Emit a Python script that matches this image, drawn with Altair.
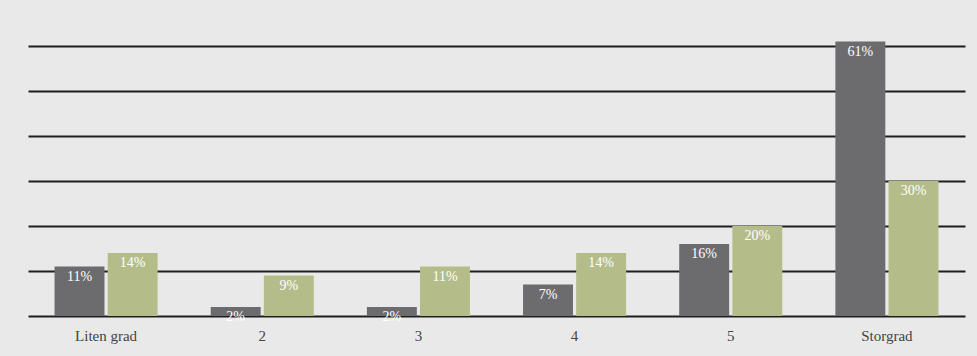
import altair as alt
import pandas as pd

categories = ["Liten grad", "2", "3", "4", "5", "Storgrad"]
series_names = ["Serie 1", "Serie 2"]
series1 = [11, 2, 2, 7, 16, 61]
series2 = [14, 9, 11, 14, 20, 30]
grid_values = [0, 10, 20, 30, 40, 50, 60]

rows = []
for c, a, b in zip(categories, series1, series2):
    rows.append({"cat": c, "serie": series_names[0], "value": a, "label": f"{a}%"})
    rows.append({"cat": c, "serie": series_names[1], "value": b, "label": f"{b}%"})
df = pd.DataFrame(rows)

x = alt.X("cat:N", sort=categories, title=None,
          scale=alt.Scale(paddingInner=0.34, paddingOuter=0.17),
          axis=alt.Axis(labelAngle=0, labelFont="Liberation Serif", labelFontSize=15,
                        labelColor="#444444", labelPadding=12, ticks=False, domain=False))
y = alt.Y("value:Q", title=None,
          scale=alt.Scale(domain=[0, 60], nice=False),
          axis=alt.Axis(values=grid_values, labels=False, ticks=False, domain=False,
                        grid=True, gridColor="#1e1e1e", gridWidth=2))
xo = alt.XOffset("serie:N", sort=series_names, scale=alt.Scale(paddingInner=0.06))
color = alt.Color("serie:N", sort=series_names, legend=None,
                  scale=alt.Scale(domain=series_names, range=["#6c6c6e", "#b4bd8a"]))

bars = alt.Chart(df).mark_bar().encode(x=x, y=y, xOffset=xo, color=color)
labels = alt.Chart(df).mark_text(baseline="top", dy=3, color="white",
                                 font="Liberation Serif", fontSize=14).encode(
    x=alt.X("cat:N", sort=categories), y="value:Q", xOffset=xo, text="label:N")

chart = alt.layer(bars, labels).properties(
    width=937, height=270,
    autosize=alt.AutoSizeParams(type="none"),
    padding={"left": 28, "top": 46, "right": 12, "bottom": 40},
    background="#e9e9e9",
).configure_view(stroke=None)

chart.save("out.html", embed_options={"renderer": "svg", "actions": False})
